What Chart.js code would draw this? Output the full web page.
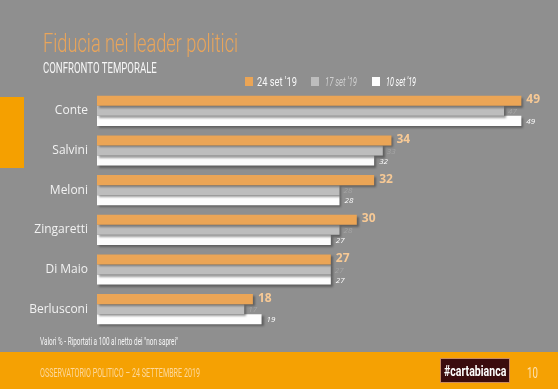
<!DOCTYPE html>
<html>
<head>
<meta charset="utf-8">
<script src="https://cdn.jsdelivr.net/npm/chart.js@4/dist/chart.umd.min.js"></script>
<style>
  html, body { margin: 0; padding: 0; }
  body { width: 558px; height: 389px; background: #8f8f8f; position: relative; overflow: hidden; font-family: "Roboto", "DejaVu Sans", sans-serif; }
  #wrap { position: absolute; left: 0; top: 0; width: 558px; height: 389px; }
  .fit { position: absolute; white-space: nowrap; transform-origin: 0 0; line-height: 1; }
  #title { left: 43px; top: 31px; font-size: 25px; color: #eaa55a; font-weight: 300; }
  #subtitle { left: 43px; top: 62px; font-size: 14.5px; color: #f6f6f6; }
  #legend { position: absolute; left: 245px; top: 76px; height: 12px; }
  .lg-box { position: absolute; top: 1px; width: 8px; height: 9px; }
  #note { left: 40px; top: 337px; font-size: 10px; color: #f4f4f4; }
  #tab { position: absolute; left: 0; top: 97px; width: 24px; height: 71px; background: #f5a000; }
  #footer { position: absolute; left: 0; top: 352px; width: 558px; height: 37px; background: #f5a103; }
  #foottext { left: 40px; top: 14px; font-size: 13.5px; color: #fcd89c; }
  #logo { position: absolute; left: 440px; top: 6px; width: 70px; height: 25px; background: #3b0c0e; box-shadow: inset 0 0 0 1px #c98a60; }
  #logotext { left: 4px; top: 6px; font-size: 14px; color: #ffffff; font-weight: bold; }
  #page { left: 527px; top: 14px; font-size: 14px; color: #fde2b4; }
</style>
</head>
<body>
<div id="wrap"><canvas id="chart" width="558" height="389"></canvas></div>
<div id="tab"></div>
<div class="fit" id="title" data-w="195">Fiducia nei leader politici</div>
<div class="fit" id="subtitle" data-w="114">CONFRONTO TEMPORALE</div>
<div id="legend"></div>
<div class="fit" id="note" data-w="138">Valori % - Riportati a 100 al netto dei "non saprei"</div>
<div id="footer">
  <div class="fit" id="foottext" data-w="160">OSSERVATORIO POLITICO – 24 SETTEMBRE 2019</div>
  <div id="logo"><div class="fit" id="logotext" data-w="62">#cartabianca</div></div>
  <div class="fit" id="page" data-w="11">10</div>
</div>
<script>
// chart data
const leaders = ["Conte", "Salvini", "Meloni", "Zingaretti", "Di Maio", "Berlusconi"];
const seriesLabels = ["24 set '19", "17 set '19", "10 set '19"];
const sep24 = [49, 34, 32, 30, 27, 18];
const sep17 = [47, 33, 28, 28, 27, 17];
const sep10 = [49, 32, 28, 27, 27, 19];

const barColors = ["#eba556", "#bdbdbd", "#fdfdfd"];

// squeeze condensed-looking text to the width it has in the slide
function fitText() {
    document.querySelectorAll(".fit").forEach(el => {
        const target = parseFloat(el.dataset.w);
        if (!target) return;
        const w = el.scrollWidth;
        el.style.transform = "scaleX(" + (target / w) + ")";
    });
}

// legend built from the series labels
const legendEl = document.getElementById("legend");
const legendPos = [{ box: 0, text: 12, w: 40 }, { box: 66, text: 80, w: 32 }, { box: 127, text: 141, w: 30 }];
const legendText = [
    { color: "#f8f8f8", style: "normal", size: 13.5 },
    { color: "#cfcfcf", style: "italic", size: 12 },
    { color: "#ffffff", style: "italic", size: 12 }
];
seriesLabels.forEach((lab, i) => {
    const box = document.createElement("div");
    box.className = "lg-box";
    box.style.left = legendPos[i].box + "px";
    box.style.background = barColors[i];
    legendEl.appendChild(box);
    const t = document.createElement("div");
    t.className = "fit";
    t.textContent = lab;
    t.dataset.w = legendPos[i].w;
    t.style.left = legendPos[i].text + "px";
    t.style.top = (i === 0 ? -1 : 0) + "px";
    t.style.color = legendText[i].color;
    t.style.fontStyle = legendText[i].style;
    t.style.fontSize = legendText[i].size + "px";
    legendEl.appendChild(t);
});

fitText();

// drop shadow under the bars
const barShadow = {
    id: "barShadow",
    beforeDatasetsDraw(chart) {
        const ctx = chart.ctx;
        ctx.save();
        ctx.shadowColor = "rgba(40,40,40,0.45)";
        ctx.shadowOffsetX = 2;
        ctx.shadowOffsetY = 2;
        ctx.shadowBlur = 2;
    },
    afterDatasetsDraw(chart) {
        chart.ctx.restore();
    }
};

// numbers at the end of each bar
const valueLabels = {
    id: "valueLabels",
    afterDraw(chart) {
        const ctx = chart.ctx;
        const styles = [
            { font: "bold 12px 'Open Sans', sans-serif", color: "#f7c995", dx: 5 },
            { font: "italic 8px 'Open Sans', sans-serif", color: "#a5a5a5", dx: 4 },
            { font: "italic 8px 'Open Sans', sans-serif", color: "#ffffff", dx: 5 }
        ];
        ctx.save();
        ctx.textBaseline = "middle";
        chart.data.datasets.forEach((ds, di) => {
            const meta = chart.getDatasetMeta(di);
            const s = styles[di];
            ctx.font = s.font;
            ctx.fillStyle = s.color;
            meta.data.forEach((bar, i) => {
                ctx.fillText(ds.data[i], bar.x + s.dx, bar.y + (di === 0 ? -1 : 1));
            });
        });
        ctx.restore();
    }
};

new Chart(document.getElementById("chart"), {
    type: "bar",
    data: {
        labels: leaders,
        datasets: [
            { label: seriesLabels[0], data: sep24, backgroundColor: barColors[0] },
            { label: seriesLabels[1], data: sep17, backgroundColor: barColors[1] },
            { label: seriesLabels[2], data: sep10, backgroundColor: barColors[2] }
        ]
    },
    options: {
        indexAxis: "y",
        responsive: false,
        animation: false,
        layout: { padding: { left: 0, right: 2, top: 91, bottom: 60 } },
        datasets: { bar: { categoryPercentage: 0.76, barPercentage: 1 } },
        scales: {
            x: { display: false, min: 0, max: 53 },
            y: {
                grid: { display: false },
                border: { display: false },
                ticks: {
                    color: "#f2f2f2",
                    padding: 1,
                    font: { family: "'Open Sans', sans-serif", size: 12 }
                },
                afterFit(scale) { scale.width = 97; }
            }
        },
        plugins: {
            legend: { display: false },
            tooltip: { enabled: false }
        }
    },
    plugins: [barShadow, valueLabels]
});
</script>
</body>
</html>
